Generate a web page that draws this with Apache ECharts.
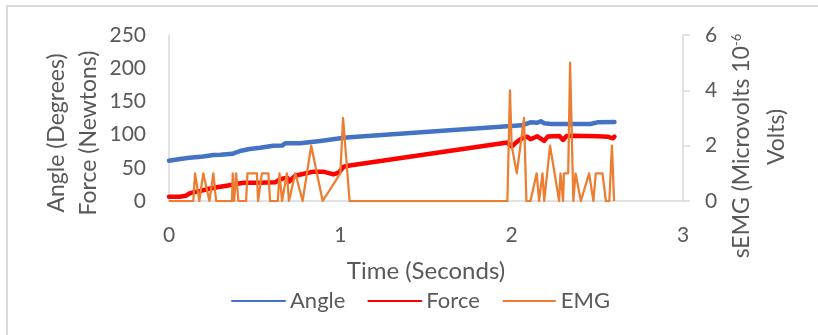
<!DOCTYPE html>
<html>
<head>
<meta charset="utf-8">
<script src="https://cdn.jsdelivr.net/npm/echarts@6/dist/echarts.min.js"></script>
<style>
  html, body { margin: 0; padding: 0; background: #fff; }
  #chart { width: 818px; height: 335px; }
</style>
</head>
<body>
<div id="chart"></div>
<script>
// Knee angle (degrees) over time (seconds)
const angleTime = [0, 0.064, 0.12, 0.2, 0.26, 0.3, 0.37, 0.415, 0.47, 0.532, 0.57, 0.61, 0.66, 0.678, 0.766, 0.883, 1.0, 1.054, 1.975, 2.06, 2.11, 2.15, 2.17, 2.19, 2.23, 2.46, 2.5, 2.6];
const angleDeg  = [60.7, 63.3, 65, 67, 69.3, 69.5, 71, 75.3, 78.3, 80.3, 81.8, 83.3, 83.5, 86.8, 87, 90.4, 94.4, 96, 112.5, 114, 118.5, 118, 120, 117, 116, 116, 118.5, 119];

// Force (newtons) over time (seconds)
const forceTime = [0, 0.06, 0.1, 0.12, 0.14, 0.18, 0.22, 0.28, 0.337, 0.39, 0.435, 0.53, 0.62, 0.64, 0.668, 0.69, 0.70, 0.737, 0.78, 0.844, 0.90, 0.96, 0.99, 1.02, 1.054, 1.975, 2.0, 2.03, 2.06, 2.09, 2.11, 2.15, 2.19, 2.21, 2.277, 2.30, 2.32, 2.36, 2.5, 2.56, 2.59, 2.6];
const forceN    = [6.5, 6.5, 8, 11.5, 13, 15.1, 17.6, 20.6, 23.1, 25.6, 27.6, 27.6, 28.1, 31.6, 34.1, 35.1, 29.1, 38.1, 40.7, 44.2, 44.2, 40.2, 42.7, 51.7, 53.5, 88, 82, 89, 94.4, 96.9, 93, 97.5, 90.6, 97, 98, 92, 98, 98.4, 97.5, 96.9, 94.4, 96.9];

// Surface EMG (microvolts) over time (seconds)
const emgTime = [0, 0.142, 0.152, 0.177, 0.20, 0.21, 0.236, 0.259, 0.275, 0.368, 0.372, 0.38, 0.392, 0.405, 0.45, 0.458, 0.513, 0.52, 0.542, 0.58, 0.59, 0.635, 0.645, 0.66, 0.688, 0.70, 0.737, 0.78, 0.83, 0.897, 1.0, 1.016, 1.054, 1.975, 1.99, 2.0, 2.03, 2.072, 2.086, 2.11, 2.146, 2.16, 2.18, 2.19, 2.224, 2.277, 2.285, 2.30, 2.305, 2.33, 2.341, 2.36, 2.373, 2.404, 2.452, 2.477, 2.491, 2.53, 2.55, 2.57, 2.585, 2.598];
const emgUv   = [0, 0, 1, 0, 1, 1, 0, 1, 0, 0, 1, 0, 1, 0, 0, 1, 1, 0, 1, 1, 0, 0, 1, 0, 1, 0, 1, 0, 2, 0, 1, 3, 0, 0, 4, 2, 1, 3, 0, 0, 1, 0, 1, 0, 2, 0, 1, 0, 1, 1, 5, 0, 1, 0, 1, 0, 1, 1, 0, 0, 2, 0];

// Axis ticks
const timeTicks = { min: 0, max: 3, interval: 1 };
const leftTicks = { min: 0, max: 250, interval: 50 };
const rightTicks = { min: 0, max: 6, interval: 2 };

const pairs = (xs, ys) => xs.map((x, i) => [x, ys[i]]);

const FONT = 'Lato';
const TXT = '#595959';
const AXIS = '#d9d9d9';

const chart = echarts.init(document.getElementById('chart'), null, { renderer: 'canvas' });

chart.setOption({
  animation: false,
  backgroundColor: '#ffffff',
  textStyle: { fontFamily: FONT, color: TXT },
  grid: { left: 169, right: 135, top: 35, bottom: 134, containLabel: false },
  xAxis: {
    type: 'value',
    min: timeTicks.min, max: timeTicks.max, interval: timeTicks.interval,
    name: 'Time (Seconds)',
    nameLocation: 'middle',
    nameGap: 58,
    nameTextStyle: { fontFamily: FONT, fontSize: 24, color: TXT },
    axisLine: { show: true, lineStyle: { color: AXIS, width: 1.5 } },
    axisTick: { show: false },
    splitLine: { show: false },
    axisLabel: { margin: 24, fontSize: 21, color: TXT, fontFamily: FONT }
  },
  yAxis: [
    {
      type: 'value', position: 'left',
      min: leftTicks.min, max: leftTicks.max, interval: leftTicks.interval,
      axisLine: { show: true, lineStyle: { color: AXIS, width: 1.5 } },
      axisTick: { show: false },
      splitLine: { show: false },
      axisLabel: { margin: 23, fontSize: 21, color: TXT, fontFamily: FONT }
    },
    {
      type: 'value', position: 'right',
      min: rightTicks.min, max: rightTicks.max, interval: rightTicks.interval,
      axisLine: { show: true, lineStyle: { color: AXIS, width: 1.5 } },
      axisTick: { show: true, length: 7, inside: false, lineStyle: { color: AXIS, width: 1.5 } },
      splitLine: { show: false },
      axisLabel: { margin: 22, fontSize: 21, color: TXT, fontFamily: FONT }
    }
  ],
  legend: {
    left: 226, top: 285,
    itemWidth: 53, itemHeight: 14, itemGap: 22,
    itemStyle: { opacity: 0 },
    textStyle: { fontFamily: FONT, fontSize: 22, color: TXT },
    data: ['Angle', 'Force', 'EMG']
  },
  graphic: [
    {
      type: 'rect', silent: true, z: -10,
      shape: { x: 7, y: 6, width: 900, height: 400 },
      style: { fill: 'none', stroke: '#d9d9d9', lineWidth: 2 }
    },
    {
      type: 'text', x: 57, y: 133, rotation: Math.PI / 2,
      style: { text: 'Angle (Degrees)', font: '23px Lato', fill: TXT, align: 'center', verticalAlign: 'middle' }
    },
    {
      type: 'text', x: 89, y: 133, rotation: Math.PI / 2,
      style: { text: 'Force (Newtons)', font: '23px Lato', fill: TXT, align: 'center', verticalAlign: 'middle' }
    },
    {
      type: 'text', x: 742, y: 146, rotation: Math.PI / 2,
      style: {
        text: 'sEMG (Microvolts 10{sup|-6}',
        font: '23px Lato', fill: TXT, align: 'center', verticalAlign: 'middle',
        rich: { sup: { fontSize: 13, fontFamily: FONT, fill: TXT, verticalAlign: 'top', padding: [0, 0, 10, 0] } }
      }
    },
    {
      type: 'text', x: 777, y: 137, rotation: Math.PI / 2,
      style: { text: 'Volts)', font: '23px Lato', fill: TXT, align: 'center', verticalAlign: 'middle' }
    }
  ],
  series: [
    {
      name: 'Angle', type: 'line', yAxisIndex: 0,
      data: pairs(angleTime, angleDeg),
      showSymbol: false, symbol: 'none',
      lineStyle: { color: '#4472C4', width: 4.5, cap: 'round', join: 'round' },
      itemStyle: { color: '#4472C4' }
    },
    {
      name: 'Force', type: 'line', yAxisIndex: 0,
      data: pairs(forceTime, forceN),
      showSymbol: false, symbol: 'none',
      lineStyle: { color: '#FF0000', width: 4.5, cap: 'round', join: 'round' },
      itemStyle: { color: '#FF0000' }
    },
    {
      name: 'EMG', type: 'line', yAxisIndex: 1,
      data: pairs(emgTime, emgUv),
      showSymbol: false, symbol: 'none',
      lineStyle: { color: '#ED7D31', width: 2.25, join: 'round' },
      itemStyle: { color: '#ED7D31' }
    }
  ]
});
</script>
</body>
</html>
